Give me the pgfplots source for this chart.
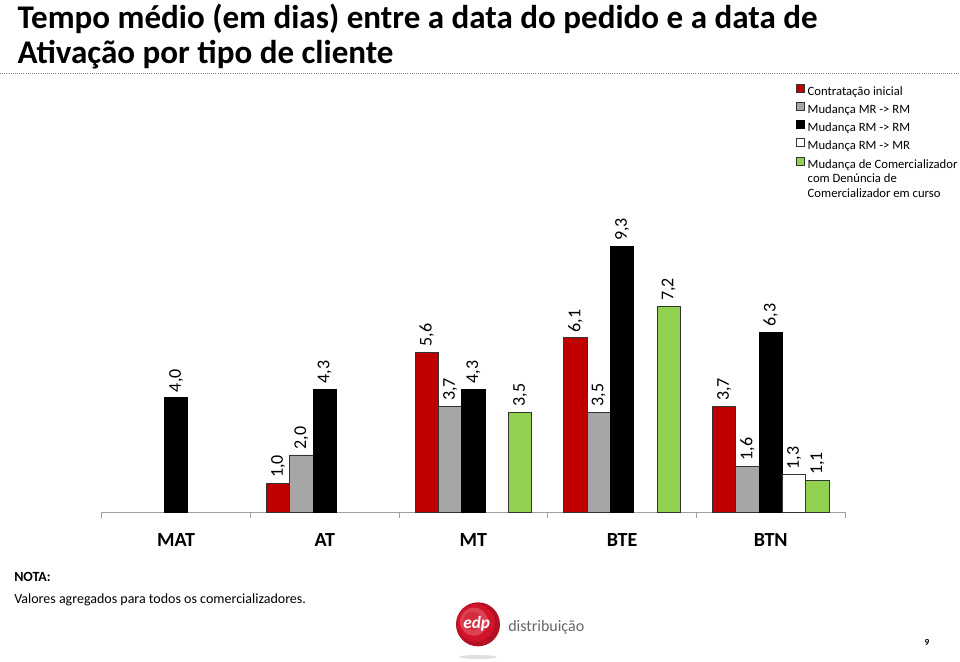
\documentclass[border=0pt]{standalone}
\usepackage{pgfplots}
\pgfplotsset{compat=1.18}
\usepackage{fontspec}
\setmainfont{Carlito}
\definecolor{cred}{HTML}{C00000}
\definecolor{cgray}{HTML}{A6A6A6}
\definecolor{cgreen}{HTML}{92D050}
\definecolor{axgray}{HTML}{A0A0A0}
\definecolor{edpred}{HTML}{D2142A}
\pgfplotsset{sqlegend/.style={legend image code/.code={\draw[##1] (0pt,-0.5pt) rectangle (6pt,5.5pt);}}}
\begin{document}
\begin{tikzpicture}
\useasboundingbox (0,0) rectangle (720pt,495.75pt);
% title
\node[anchor=base west, inner sep=0pt, font=\fontsize{24.8}{26}\selectfont\bfseries] at (13pt,474.5pt) {Tempo médio (em dias) entre a data do pedido e a data de};
\node[anchor=base west, inner sep=0pt, font=\fontsize{24.8}{26}\selectfont\bfseries] at (13pt,448pt) {Ativação por tipo de cliente};
\draw[gray, densely dotted, line width=0.6pt] (0,441pt) -- (720pt,441pt);
\begin{axis}[
  at={(76.3pt,111.75pt)}, anchor=south west,
  scale only axis, width=557.5pt, height=214.1pt,
  xmin=0, xmax=5, ymin=0, ymax=10,
  axis x line=bottom, axis y line=none,
  axis line style={-, axgray, line width=0.75pt},
  xtick={0,1,2,3,4,5}, xticklabels={},
  xtick align=outside, major tick length=4.5pt,
  tick style={axgray, line width=0.75pt},
  extra x ticks={0.5,1.5,2.5,3.5,4.5},
  extra x tick labels={MAT,AT,MT,BTE,BTN},
  extra x tick style={major tick length=0pt, tick label style={font=\fontsize{15}{18}\selectfont\bfseries, yshift=-12.5pt}},
  ytick=\empty,
  clip=false,
  ybar, bar width=17.5pt,
  nodes near coords,
  /pgf/number format/.cd, use comma, fixed, fixed zerofill, precision=1, assume math mode=true, /pgfplots/.cd,
  every node near coord/.append style={rotate=90, anchor=west, font=\fontsize{13.5}{16}\selectfont, inner xsep=4pt, inner ysep=0pt, black},
  legend style={at={(0.934,1.501)}, anchor=north west, draw=none, fill=none, inner sep=0pt,
    font=\fontsize{9.5}{11.25}\selectfont, cells={anchor=base west}, row sep=1.5pt,
    /tikz/every even column/.append style={column sep=3pt}},
  legend cell align=left,
]
\addplot[fill=cred, draw=black!80, line width=0.6pt, bar shift=-35pt, sqlegend]
  coordinates {(1.5,1.0) (2.5,5.6) (3.5,6.1) (4.5,3.7)};
\addlegendentry{Contratação inicial}
\addplot[fill=cgray, draw=black!80, line width=0.6pt, bar shift=-17.5pt, sqlegend]
  coordinates {(1.5,2.0) (2.5,3.7) (3.5,3.5) (4.5,1.6)};
\addlegendentry{Mudança MR -> RM}
\addplot[fill=black, draw=black, line width=0.6pt, bar shift=0pt, sqlegend]
  coordinates {(0.5,4.0) (1.5,4.3) (2.5,4.3) (3.5,9.3) (4.5,6.3)};
\addlegendentry{Mudança RM -> RM}
\addplot[fill=white, draw=black!80, line width=0.6pt, bar shift=17.5pt, sqlegend]
  coordinates {(4.5,1.3)};
\addlegendentry{Mudança RM -> MR}
\addplot[fill=cgreen, draw=black!80, line width=0.6pt, bar shift=35pt, sqlegend]
  coordinates {(2.5,3.5) (3.5,7.2) (4.5,1.1)};
\addlegendentry{\def\arraystretch{0.94}\begin{tabular}[t]{@{}l@{}}Mudança de Comercializador\\com Denúncia de\\Comercializador em curso\end{tabular}}
\end{axis}
% note
\node[anchor=base west, inner sep=0pt, font=\fontsize{10.5}{12}\selectfont\bfseries] at (10.5pt,60pt) {NOTA:};
\node[anchor=base west, inner sep=0pt, font=\fontsize{10.5}{12}\selectfont] at (10.5pt,43pt) {Valores agregados para todos os comercializadores.};
% logo
\fill[black!12] (358.5pt,3pt) ellipse (14pt and 1.5pt);
\fill[edpred!85!black] (358.5pt,27.5pt) circle (16.5pt);
\fill[edpred] (357pt,28.5pt) circle (14pt);
\fill[edpred!80!white] (355.5pt,29.5pt) circle (10.5pt);
\fill[edpred!90!white] (354.5pt,30pt) circle (7pt);
\node[text=white, font=\fontsize{13}{14}\selectfont\bfseries\itshape, inner sep=0pt] at (357.5pt,28pt) {edp};
\node[anchor=base west, inner sep=0pt, text=black!60, font=\fontsize{12}{14}\selectfont] at (381pt,22pt) {distribuição};
\node[anchor=base, inner sep=0pt, font=\fontsize{7}{8}\selectfont\bfseries] at (695.25pt,12pt) {9};
\end{tikzpicture}
\end{document}
